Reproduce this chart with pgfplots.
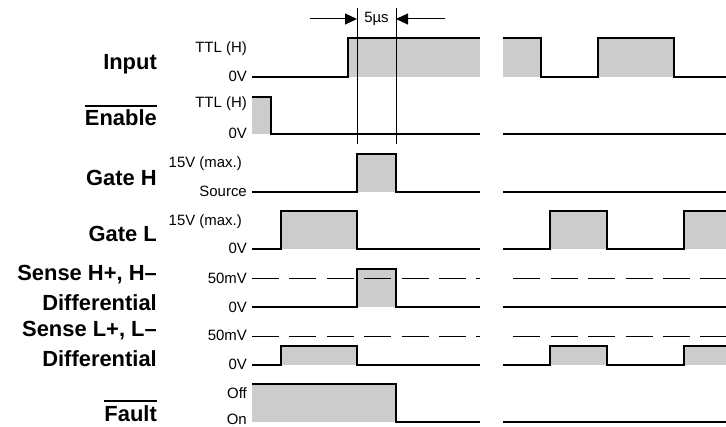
\documentclass[border=0pt]{standalone}
\usepackage{pgfplots}
\pgfplotsset{compat=1.18}
\usepackage{fontspec}
\setmainfont{Liberation Sans}
\usetikzlibrary{arrows.meta}

\definecolor{fillgray}{RGB}{204,204,204}

% overlined signal name (active low)
\newcommand\ovl[1]{\vbox{\hrule height 2bp \kern 3bp \hbox{#1}}}

\tikzset{
  sig/.style={black, line width=2.5bp, line join=miter, line cap=butt},
  shade/.style={fill=fillgray, draw=none},
  thin/.style={black, line width=1bp},
  dsh/.style={black, line width=1bp, dash pattern=on 27bp off 10.4bp},
  lvl/.style={anchor=base east, font=\fontsize{15}{15}\selectfont, inner sep=0pt},
  lab/.style={anchor=base east, font=\fontsize{22}{22}\selectfont\bfseries, inner sep=0pt},
}

\begin{document}
\begin{tikzpicture}
\begin{axis}[
    name=ax, at={(0,0)}, anchor=south west,
    scale only axis, width=726bp, height=427bp,
    xmin=0, xmax=726, ymin=0, ymax=427, y dir=reverse,
    hide axis, clip=false,
  ]

  % grey areas
  \addplot[shade] coordinates {(348,38) (480,38) (480,77) (348,77)};
  \addplot[shade] coordinates {(503,38) (541,38) (541,77) (503,77)};
  \addplot[shade] coordinates {(598,38) (674,38) (674,77) (598,77)};
  \addplot[shade] coordinates {(252,97) (271,97) (271,134) (252,134)};
  \addplot[shade] coordinates {(357,154) (396,154) (396,192) (357,192)};
  \addplot[shade] coordinates {(281,211) (357,211) (357,249) (281,249)};
  \addplot[shade] coordinates {(550,211) (607,211) (607,249) (550,249)};
  \addplot[shade] coordinates {(684,211) (726,211) (726,249) (684,249)};
  \addplot[shade] coordinates {(357,269) (396,269) (396,307) (357,307)};
  \addplot[shade] coordinates {(281,346) (357,346) (357,365) (281,365)};
  \addplot[shade] coordinates {(550,346) (607,346) (607,365) (550,365)};
  \addplot[shade] coordinates {(684,346) (726,346) (726,365) (684,365)};
  \addplot[shade] coordinates {(252,384) (396,384) (396,422) (252,422)};

  % 50mV thresholds
  \addplot[dsh] coordinates {(252,278) (480,278)};
  \addplot[dsh, dash phase=27bp] coordinates {(503,278) (726,278)};
  \addplot[dsh] coordinates {(252,336) (480,336)};
  \addplot[dsh, dash phase=27bp] coordinates {(503,336) (726,336)};

  % 5us markers
  \addplot[thin] coordinates {(357,8) (357,144)};
  \addplot[thin] coordinates {(396,8) (396,144)};
  \addplot[thin, -{Triangle[length=12bp, width=11bp]}] coordinates {(310,19) (357,19)};
  \addplot[thin, -{Triangle[length=12bp, width=11bp]}] coordinates {(445,19) (396,19)};
  \node[font=\fontsize{15}{15}\selectfont, inner sep=0pt] at (axis cs:376.5,19) {5µs};

  % Input
  \addplot[sig] coordinates {(252,77) (348,77) (348,38) (480,38)};
  \addplot[sig] coordinates {(503,38) (541,38) (541,77) (598,77) (598,38) (674,38) (674,77) (726,77)};
  % Enable
  \addplot[sig] coordinates {(252,97) (271,97) (271,134) (480,134)};
  \addplot[sig] coordinates {(503,134) (726,134)};
  % Gate H
  \addplot[sig] coordinates {(252,192) (357,192) (357,154) (396,154) (396,192) (480,192)};
  \addplot[sig] coordinates {(503,192) (726,192)};
  % Gate L
  \addplot[sig] coordinates {(252,249) (281,249) (281,211) (357,211) (357,249) (480,249)};
  \addplot[sig] coordinates {(503,249) (550,249) (550,211) (607,211) (607,249) (684,249) (684,211) (726,211)};
  % Sense H
  \addplot[sig] coordinates {(252,307) (357,307) (357,269) (396,269) (396,307) (480,307)};
  \addplot[sig] coordinates {(503,307) (726,307)};
  % Sense L
  \addplot[sig] coordinates {(252,365) (281,365) (281,346) (357,346) (357,365) (480,365)};
  \addplot[sig] coordinates {(503,365) (550,365) (550,346) (607,346) (607,365) (684,365) (684,346) (726,346)};
  % Fault
  \addplot[sig] coordinates {(252,384) (396,384) (396,422) (480,422)};
  \addplot[sig] coordinates {(503,422) (726,422)};

  % level labels
  \node[lvl] at (axis cs:247,53) {TTL (H)};
  \node[lvl] at (axis cs:247,82) {0V};
  \node[lvl] at (axis cs:247,108) {TTL (H)};
  \node[lvl] at (axis cs:247,138) {0V};
  \node[lvl] at (axis cs:242,167) {15V (max.)};
  \node[lvl] at (axis cs:247,196) {Source};
  \node[lvl] at (axis cs:242,225) {15V (max.)};
  \node[lvl] at (axis cs:247,253) {0V};
  \node[lvl] at (axis cs:247,283) {50mV};
  \node[lvl] at (axis cs:247,312) {0V};
  \node[lvl] at (axis cs:247,340) {50mV};
  \node[lvl] at (axis cs:247,369) {0V};
  \node[lvl] at (axis cs:247,398) {Off};
  \node[lvl] at (axis cs:247,424) {On};

  % signal names
  \node[lab] at (axis cs:157,70) {Input};
  \node[lab] at (axis cs:157,126) {\ovl{Enable}};
  \node[lab] at (axis cs:157,185) {Gate H};
  \node[lab] at (axis cs:157,241) {Gate L};
  \node[lab] at (axis cs:157,280) {Sense H+, H–};
  \node[lab] at (axis cs:157,310) {Differential};
  \node[lab] at (axis cs:157,336) {Sense L+, L–};
  \node[lab] at (axis cs:157,366) {Differential};
  \node[lab] at (axis cs:157,421) {\ovl{Fault}};
\end{axis}
\pgfresetboundingbox
\path[use as bounding box] (ax.south west) rectangle (ax.north east);
\end{tikzpicture}
\end{document}
